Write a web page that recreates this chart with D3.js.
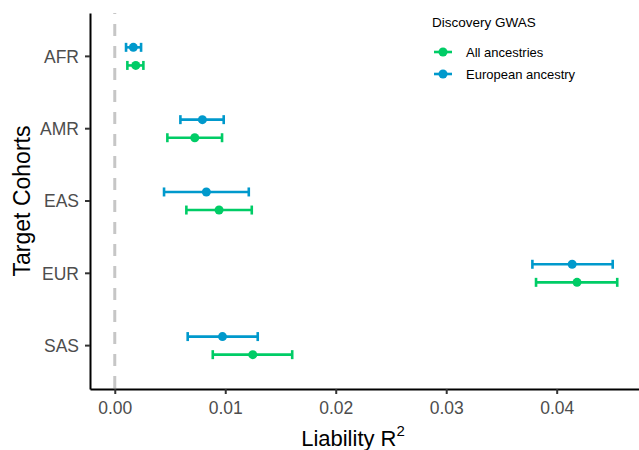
<!DOCTYPE html>
<html>
<head>
<meta charset="utf-8">
<script src="https://cdn.jsdelivr.net/npm/d3@7"></script>
<style>
  body { margin: 0; background: #fff; }
  text { font-family: "Liberation Sans", Arial, sans-serif; }
</style>
</head>
<body>
<div id="chart"></div>
<script>
// Target cohorts, top to bottom
const cohorts = ['AFR', 'AMR', 'EAS', 'EUR', 'SAS'];

// Discovery GWAS groups
const groups = ['European ancestry', 'All ancestries'];

// Liability R2 estimates with lower / upper bounds, per cohort
const euroR2 = [0.00168, 0.00793, 0.00829, 0.0414, 0.00975];
const euroLo = [0.00102, 0.00594, 0.00446, 0.0378, 0.0066];
const euroHi = [0.00238, 0.00986, 0.01213, 0.04507, 0.01294];
const allR2 = [0.0019, 0.00724, 0.00944, 0.04184, 0.01249];
const allLo = [0.00114, 0.00476, 0.00648, 0.03813, 0.00887];
const allHi = [0.00259, 0.00971, 0.0124, 0.04548, 0.01606];

const xTicks = [0, 0.01, 0.02, 0.03, 0.04];

(function() {
  const width = 639;
  const height = 450;
  const margin = {top: 13, right: 0, bottom: 61, left: 90};

  const colors = {'European ancestry': '#0099CC', 'All ancestries': '#00CC66'};

  // Build rows from the arrays.
  const rows = [];
  cohorts.forEach((c, i) => {
    rows.push({cohort: c, group: groups[0], r2: euroR2[i], lo: euroLo[i], hi: euroHi[i]});
    rows.push({cohort: c, group: groups[1], r2: allR2[i], lo: allLo[i], hi: allHi[i]});
  });

  const svg = d3.select('#chart')
    .append('svg')
    .attr('width', width)
    .attr('height', height);

  // x starts 5% below zero; right edge is clipped by the picture
  const xMax = d3.max(rows, d => d.hi);
  const pad = xMax * 0.0493;
  const x = d3.scaleLinear()
    .domain([-pad, 0.04745])
    .range([margin.left, width - margin.right]);

  const y = d3.scaleBand()
    .domain(cohorts)
    .range([margin.top, height - margin.bottom])
    .paddingOuter(0.1)
    .paddingInner(0);

  // dodge the two groups a quarter band either way
  const dodge = d3.scaleBand()
    .domain(groups)
    .range([-y.bandwidth() * 0.25, y.bandwidth() * 0.25])
    .paddingInner(0);

  const yPos = d => y(d.cohort) + y.bandwidth() / 2 + dodge(d.group) + dodge.bandwidth() / 2;

  // Reference line at zero
  svg.append('line')
    .attr('x1', x(0)).attr('x2', x(0))
    .attr('y1', margin.top).attr('y2', height - margin.bottom)
    .style('stroke', '#C6C6C6')
    .style('stroke-width', 3)
    .style('stroke-dasharray', '12,10')
    .style('stroke-dashoffset', 11);

  // Error bars
  const capH = 4.5;
  const bars = svg.append('g').selectAll('g')
    .data(rows)
    .enter()
    .append('g')
    .style('stroke', d => colors[d.group])
    .style('stroke-width', 2.6)
    .style('fill', 'none');

  bars.append('line')
    .attr('x1', d => x(d.lo)).attr('x2', d => x(d.hi))
    .attr('y1', yPos).attr('y2', yPos);
  bars.append('line')
    .attr('x1', d => x(d.lo)).attr('x2', d => x(d.lo))
    .attr('y1', d => yPos(d) - capH).attr('y2', d => yPos(d) + capH);
  bars.append('line')
    .attr('x1', d => x(d.hi)).attr('x2', d => x(d.hi))
    .attr('y1', d => yPos(d) - capH).attr('y2', d => yPos(d) + capH);

  // Points
  svg.append('g').selectAll('circle')
    .data(rows)
    .enter()
    .append('circle')
    .attr('cx', d => x(d.r2))
    .attr('cy', yPos)
    .attr('r', 4.5)
    .style('fill', d => colors[d.group]);

  // Axes
  const xAxis = svg.append('g')
    .attr('transform', `translate(0, ${height - margin.bottom})`)
    .call(d3.axisBottom(x).tickValues(xTicks).tickFormat(d3.format('.2f')).tickSize(5).tickSizeOuter(0));
  const yAxis = svg.append('g')
    .attr('transform', `translate(${margin.left}, 0)`)
    .call(d3.axisLeft(y).tickSize(5).tickSizeOuter(0));

  [xAxis, yAxis].forEach(a => {
    a.select('.domain').style('stroke', '#000').style('stroke-width', 2);
    a.selectAll('.tick line').style('stroke', '#333').style('stroke-width', 2);
    a.selectAll('.tick text')
      .style('font-size', '17.5px')
      .style('fill', '#4D4D4D');
  });
  xAxis.selectAll('.tick text').attr('y', 8).attr('dy', '0.95em');
  yAxis.selectAll('.tick text').attr('x', -11).attr('dy', '0.36em');

  // Axis titles
  svg.append('text')
    .attr('transform', `translate(30, ${(margin.top + height - margin.bottom) / 2}) rotate(-90)`)
    .style('text-anchor', 'middle')
    .style('font-size', '23px')
    .style('fill', '#000')
    .text('Target Cohorts');

  const xt = svg.append('text')
    .attr('x', 353)
    .attr('y', 446)
    .style('text-anchor', 'middle')
    .style('font-size', '22px')
    .style('fill', '#000');
  xt.append('tspan').text('Liability R');
  xt.append('tspan').attr('dy', -10).style('font-size', '15px').text('2');

  // Legend
  const legend = svg.append('g').attr('transform', 'translate(432, 0)');
  legend.append('text')
    .attr('x', 0).attr('y', 27)
    .style('font-size', '13.5px')
    .style('fill', '#000')
    .text('Discovery GWAS');

  const legendItems = legend.selectAll('g.item')
    .data(['All ancestries', 'European ancestry'])
    .enter()
    .append('g')
    .classed('item', true)
    .attr('transform', (d, i) => `translate(0, ${52 + i * 22})`);
  legendItems.append('line')
    .attr('x1', 2).attr('x2', 20)
    .style('stroke', d => colors[d])
    .style('stroke-width', 2.6);
  legendItems.append('circle')
    .attr('cx', 11).attr('r', 4.5)
    .style('fill', d => colors[d]);
  legendItems.append('text')
    .attr('x', 34).attr('dy', '0.35em')
    .style('font-size', '13px')
    .style('fill', '#000')
    .text(d => d);
})();
</script>
</body>
</html>
